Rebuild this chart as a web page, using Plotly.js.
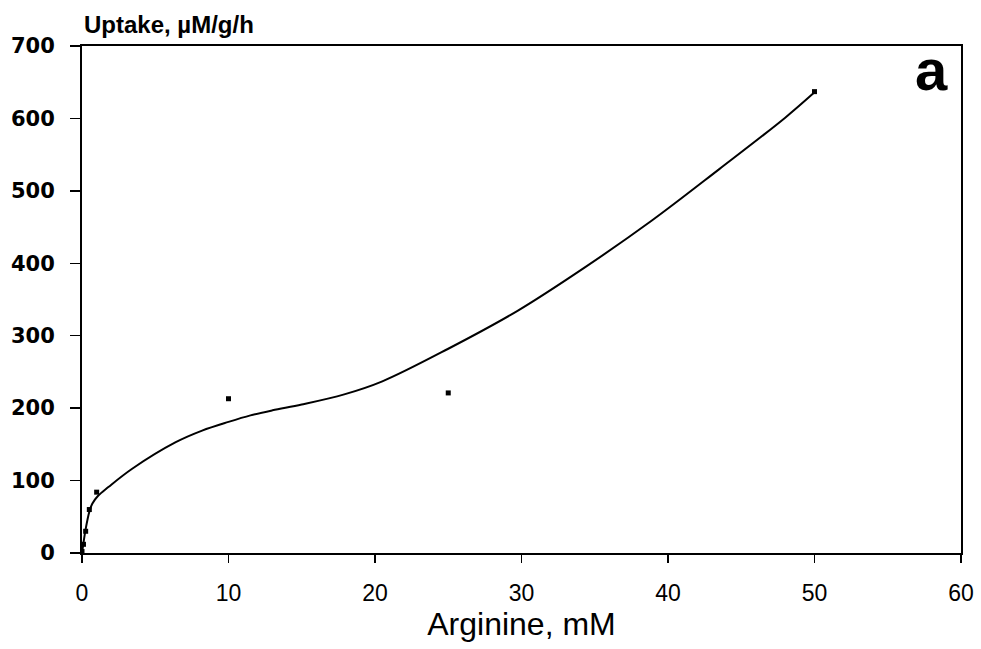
<!DOCTYPE html>
<html>
<head>
<meta charset="utf-8">
<script src="https://cdn.plot.ly/plotly-3.0.1.min.js"></script>
<style>html,body{margin:0;padding:0;background:#fff;}#chart{width:981px;height:649px;}</style>
</head>
<body>
<div id="chart"></div>
<script>
// Measured points
var argininePts = [0, 0.1, 0.25, 0.5, 1, 10, 25, 50];
var uptakePts   = [2, 12, 30, 60, 84, 213, 221, 637];
// Fitted curve
var curveX = [0, 0.1, 0.25, 0.5, 0.7, 1.1, 1.8, 3.4, 6.4, 8.2, 10, 11.5, 13, 15, 17.9, 20.5, 25, 29.7, 34.3, 38.9, 43.5, 48, 50];
var curveY = [0, 14, 33, 57, 68, 79, 91, 116, 153, 169, 181, 190, 197, 205, 219, 237, 282, 334, 394, 459, 530, 601, 636];
var xTicks = [0, 10, 20, 30, 40, 50, 60];
var yTicks = [0, 100, 200, 300, 400, 500, 600, 700];

var traces = [
  {x: curveX, y: curveY, mode: 'lines', line: {color: '#000', width: 2, shape: 'spline', smoothing: 1}, hoverinfo: 'skip'},
  {x: argininePts, y: uptakePts, mode: 'markers', marker: {symbol: 'square', size: 5, color: '#000'}}
];

var layout = {
  width: 981, height: 649,
  margin: {l: 82, r: 20, t: 46, b: 96},
  paper_bgcolor: '#fff', plot_bgcolor: '#fff',
  showlegend: false,
  xaxis: {
    range: [0, 60], tickvals: xTicks, ticktext: xTicks.map(String),
    showgrid: false, zeroline: false,
    showline: true, mirror: true, linecolor: '#000', linewidth: 2,
    ticks: 'outside', ticklen: 8, tickwidth: 1.5, tickcolor: '#000',
    ticklabelstandoff: 10,
    tickfont: {family: 'Liberation Sans, Arial, sans-serif', size: 23, color: '#000'},
    title: {text: 'Arginine, mM', font: {family: 'Liberation Sans, Arial, sans-serif', size: 32, color: '#000'}, standoff: 0}
  },
  yaxis: {
    range: [0, 700], tickvals: yTicks, ticktext: yTicks.map(String),
    showgrid: false, zeroline: false,
    showline: true, mirror: true, linecolor: '#000', linewidth: 2,
    ticks: 'outside', ticklen: 10, tickwidth: 1.5, tickcolor: '#000',
    ticklabelstandoff: 11,
    tickfont: {family: 'DejaVu Sans, sans-serif', size: 21, color: '#000', weight: 'bold'}
  },
  annotations: [
    {text: '<b>Uptake, µM/g/h</b>', xref: 'paper', yref: 'paper', x: 0, y: 1, xanchor: 'left', yanchor: 'bottom', yshift: 6, showarrow: false,
     font: {family: 'Liberation Sans, Arial, sans-serif', size: 24, color: '#000'}},
    {text: '<b>a</b>', xref: 'paper', yref: 'paper', x: 0.966, y: 0.953, xanchor: 'center', yanchor: 'middle', showarrow: false,
     font: {family: 'Liberation Sans, Arial, sans-serif', size: 58, color: '#000'}}
  ]
};

Plotly.newPlot('chart', traces, layout, {displayModeBar: false, staticPlot: true});
</script>
</body>
</html>
